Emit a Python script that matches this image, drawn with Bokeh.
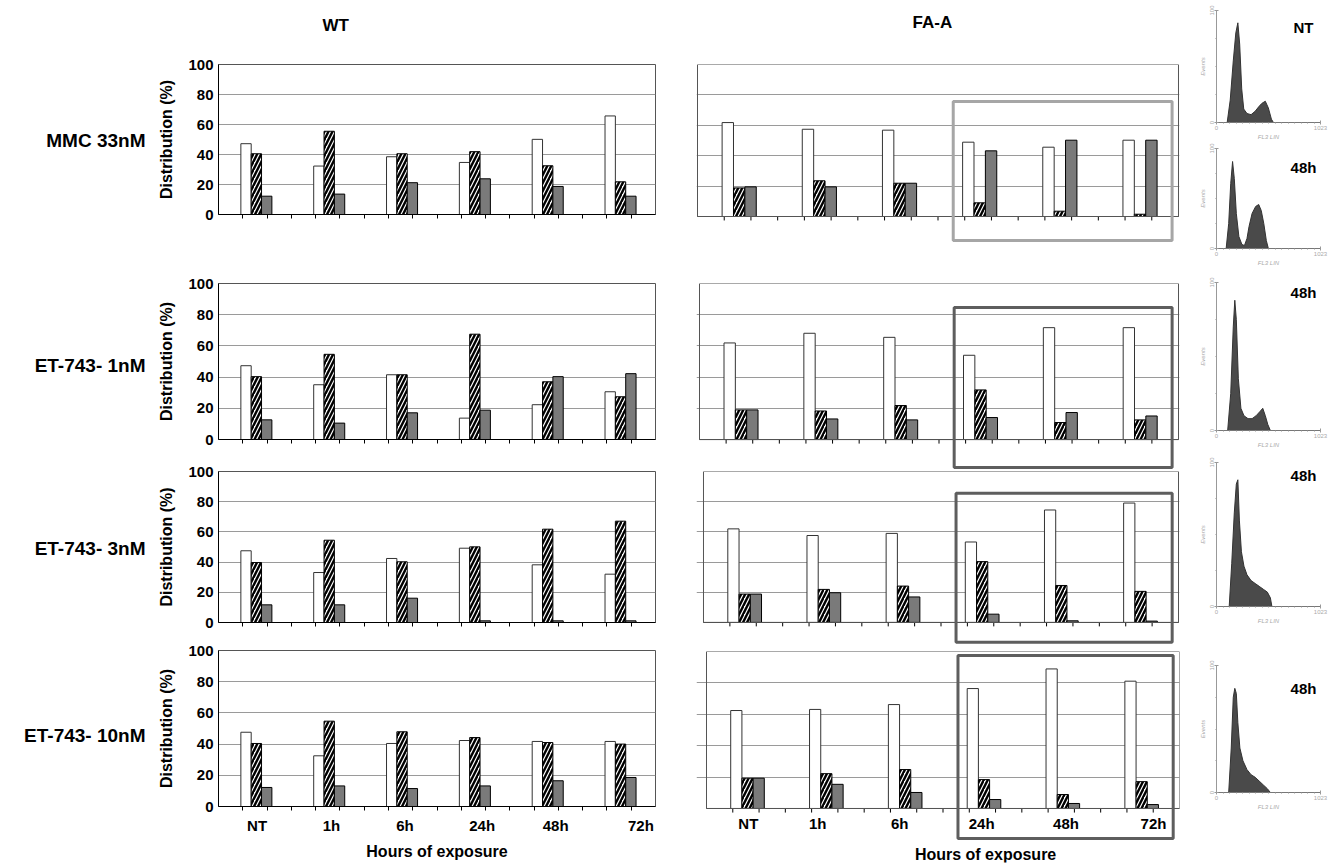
from bokeh.plotting import figure
from bokeh.models import Range1d, FixedTicker, BoxAnnotation
from bokeh.core.properties import value
from bokeh.layouts import row, column
from bokeh.embed import file_html
from bokeh.resources import INLINE

FONT = "Liberation Sans"

times = ["NT", "1h", "6h", "24h", "48h", "72h"]
row_names = ["MMC 33nM", "ET-743- 1nM", "ET-743- 3nM", "ET-743- 10nM"]

# WT (white = G1, hatched = S, grey = G2/M), percentages
wt_mmc_g1 = [47.2, 32.3, 38.5, 34.7, 50.1, 65.7]
wt_mmc_s = [40.5, 55.5, 40.5, 41.9, 32.5, 21.8]
wt_mmc_g2 = [12.2, 13.6, 21.2, 23.8, 18.7, 12.2]
wt_et1_g1 = [47.3, 35.1, 41.5, 13.7, 22.3, 30.6]
wt_et1_s = [40.3, 54.6, 41.5, 67.5, 37.0, 27.4]
wt_et1_g2 = [12.6, 10.5, 17.1, 18.8, 40.3, 42.2]
wt_et3_g1 = [47.5, 33.1, 42.4, 49.2, 38.2, 32.0]
wt_et3_s = [39.7, 54.5, 40.2, 50.1, 61.8, 67.1]
wt_et3_g2 = [11.7, 11.7, 16.1, 1.1, 1.1, 1.1]
wt_et10_g1 = [47.6, 32.5, 40.4, 42.3, 41.7, 41.7]
wt_et10_s = [40.4, 54.7, 47.9, 44.2, 41.0, 40.0]
wt_et10_g2 = [12.2, 13.2, 11.5, 13.2, 16.5, 18.6]

# FA-A
fa_mmc_g1 = [61.8, 57.4, 56.8, 48.9, 45.6, 50.2]
fa_mmc_s = [18.8, 23.5, 21.9, 9.0, 3.5, 1.5]
fa_mmc_g2 = [19.5, 19.5, 21.9, 43.2, 50.2, 50.2]
fa_et1_g1 = [61.9, 68.1, 65.5, 54.0, 71.7, 71.7]
fa_et1_s = [19.0, 18.3, 21.8, 31.8, 10.9, 12.6]
fa_et1_g2 = [19.0, 13.2, 12.6, 14.1, 17.3, 15.1]
fa_et3_g1 = [62.0, 57.6, 59.0, 53.3, 74.5, 79.1]
fa_et3_s = [18.8, 21.9, 24.1, 40.3, 24.5, 20.6]
fa_et3_g2 = [18.8, 19.7, 16.9, 5.5, 1.1, 0.9]
fa_et10_g1 = [62.4, 63.1, 66.2, 76.4, 88.9, 81.1]
fa_et10_s = [19.3, 22.2, 24.8, 18.4, 8.9, 17.1]
fa_et10_g2 = [19.3, 15.4, 10.2, 5.7, 3.2, 2.5]

# DNA content histograms (channel 0..1023, events as % of axis max)
h_nt_x = [0, 105, 135, 165, 190, 210, 228, 248, 268, 300, 340, 380, 415, 445, 480, 510, 540, 560, 1023]
h_nt_y = [0, 0, 20, 55, 80, 89, 70, 30, 12, 8, 7, 10, 14, 17, 19, 13, 3, 0, 0]
h_mmc_x = [0, 95, 120, 140, 158, 175, 195, 220, 250, 275, 300, 320, 350, 385, 415, 440, 465, 490, 510, 1023]
h_mmc_y = [0, 0, 25, 65, 87, 70, 35, 12, 4, 3, 10, 22, 35, 42, 44, 38, 25, 8, 0, 0]
h_et1_x = [0, 110, 140, 165, 180, 195, 215, 240, 270, 310, 350, 390, 430, 455, 480, 505, 530, 1023]
h_et1_y = [0, 0, 25, 70, 88, 75, 35, 15, 10, 8, 8, 10, 13, 15, 10, 4, 0, 0]
h_et3_x = [0, 125, 150, 175, 195, 210, 225, 245, 270, 300, 340, 380, 420, 460, 500, 530, 545, 1023]
h_et3_y = [0, 0, 30, 65, 85, 88, 60, 38, 28, 22, 18, 16, 14, 12, 10, 6, 0, 0]
h_et10_x = [0, 120, 145, 165, 180, 195, 210, 230, 260, 300, 340, 380, 420, 460, 500, 530, 1023]
h_et10_y = [0, 0, 35, 75, 82, 78, 55, 35, 25, 18, 14, 12, 9, 6, 3, 0, 0]
hist_labels = ["NT", "48h", "48h", "48h", "48h"]

wt_label_pos = [0.53, 1.55, 2.56, 3.62, 4.63, 5.8]
fa_label_pos = [0.53, 1.41, 2.45, 3.49, 4.56, 5.67]
row_label_y = [140, 365, 548, 735]   # vertical positions (px) of the row captions

BW = 0.142
MINOR = [k / 3 for k in range(1, 18)]


def add_bars(p, g1, s, g2):
    xc = [i + 0.52 for i in range(len(times))]
    p.vbar(x=[x - BW for x in xc], top=g1, width=BW, fill_color="white",
           line_color="#333333", line_width=1)
    p.vbar(x=xc, top=s, width=BW, fill_color="white", line_color="black", line_width=1,
           hatch_pattern="/", hatch_color="black", hatch_weight=2.4, hatch_scale=8)
    p.vbar(x=[x + BW for x in xc], top=g2, width=BW, fill_color="#7a7a7a",
           line_color="black", line_width=1)


def bold_text(p, xs, ys, texts, size, align="center"):
    p.text(x=xs, y=ys, text=texts, text_font=value(FONT), text_font_style="bold",
           text_font_size=size, text_align=align, text_baseline="middle", text_color="black")


def blank(width, height, xr, yr, bl=0, br=0):
    p = figure(width=width, height=height, x_range=xr, y_range=yr,
               output_backend="svg", toolbar_location=None,
               x_axis_location=None, y_axis_location=None,
               min_border_left=bl, min_border_right=br, min_border_top=0, min_border_bottom=0)
    p.grid.visible = False
    p.outline_line_color = None
    return p


WT_W, WT_BL, WT_BR = 530, 68, 25


def wt_panel(height, bt, bb, g1, s, g2, last=False):
    p = figure(width=WT_W, height=height, x_range=Range1d(0, 6), y_range=Range1d(0, 100),
               output_backend="svg", toolbar_location=None,
               min_border_left=WT_BL, min_border_right=WT_BR, min_border_top=bt, min_border_bottom=bb)
    p.outline_line_color = "#555555"
    p.xgrid.visible = False
    p.ygrid.ticker = FixedTicker(ticks=[20, 40, 60, 80])
    p.ygrid.grid_line_color = "#9a9a9a"
    add_bars(p, g1, s, g2)
    ya = p.yaxis[0]
    ya.ticker = FixedTicker(ticks=[0, 20, 40, 60, 80, 100])
    ya.major_tick_out = 0
    ya.major_tick_in = 0
    ya.minor_tick_out = 0
    ya.minor_tick_in = 0
    ya.major_label_text_font = FONT
    ya.major_label_text_font_style = "bold"
    ya.major_label_text_font_size = "15px"
    ya.major_label_text_color = "black"
    ya.major_label_standoff = 5
    ya.axis_line_color = "black"
    ya.axis_label = "Distribution (%)"
    ya.axis_label_text_font = FONT
    ya.axis_label_text_font_style = "bold"
    ya.axis_label_text_font_size = "16px"
    ya.axis_label_text_color = "black"
    ya.axis_label_standoff = 10
    xa = p.xaxis[0]
    if last:
        xa.ticker = FixedTicker(ticks=wt_label_pos, minor_ticks=MINOR)
        xa.major_label_overrides = {pos: t for pos, t in zip(wt_label_pos, times)}
        xa.major_label_text_font = FONT
        xa.major_label_text_font_style = "bold"
        xa.major_label_text_font_size = "15px"
        xa.major_label_text_color = "black"
        xa.major_label_standoff = 6
        xa.axis_label = "Hours of exposure"
        xa.axis_label_text_font = FONT
        xa.axis_label_text_font_style = "bold"
        xa.axis_label_text_font_size = "16px"
        xa.axis_label_text_color = "black"
        xa.axis_label_standoff = 6
    else:
        xa.ticker = FixedTicker(ticks=[], minor_ticks=MINOR)
    xa.major_tick_out = 0
    xa.major_tick_in = 0
    xa.minor_tick_out = 4
    xa.minor_tick_in = 0
    xa.minor_tick_line_color = "black"
    xa.axis_line_color = "black"
    return p


FA_W, FA_BL, FA_BR = 515, 16, 16


def fa_panel(height, bt, xr, ystart, g1, s, g2, box_top, box_bottom, box_color,
             last=False, tick_y=None, xlabel_y=None):
    p = figure(width=FA_W, height=height, x_range=Range1d(*xr), y_range=Range1d(ystart, 100),
               output_backend="svg", toolbar_location=None,
               x_axis_location=None, y_axis_location=None,
               min_border_left=FA_BL, min_border_right=FA_BR, min_border_top=bt, min_border_bottom=1)
    p.outline_line_color = None
    p.xgrid.visible = False
    p.ygrid.ticker = FixedTicker(ticks=[20, 40, 60, 80])
    p.ygrid.grid_line_color = "#9a9a9a"
    p.ygrid.bounds = (0, 6)
    # panel frame (0..6 x 0..100) and category axis at 0
    p.add_layout(BoxAnnotation(left=0, right=6, bottom=0, top=100, fill_color=None, fill_alpha=0,
                               line_color="#555555", line_alpha=1, line_width=1))
    add_bars(p, g1, s, g2)
    p.segment(x0=[0], y0=[0], x1=[6], y1=[0], line_color="black", line_width=1)
    p.segment(x0=MINOR, y0=[0] * len(MINOR), x1=MINOR, y1=[-2.6] * len(MINOR),
              line_color="black", line_width=1)
    p.add_layout(BoxAnnotation(left=3.19, right=5.92, top=box_top, bottom=box_bottom,
                               fill_color=None, fill_alpha=0, line_color=box_color,
                               line_alpha=1, line_width=3))
    if last:
        bold_text(p, fa_label_pos, [tick_y] * len(times), times, "15px")
        bold_text(p, [3.54], [xlabel_y], ["Hours of exposure"], "16px")
    return p


# row caption column
lab = blank(150, 863, Range1d(0, 150), Range1d(863, 0))
bold_text(lab, [145] * len(row_names), row_label_y, row_names, "19px", align="right")

# column headers
wt_head = blank(WT_W, 50, Range1d(0, 6), Range1d(50, 0), bl=WT_BL, br=WT_BR)
bold_text(wt_head, [1.61], [25], ["WT"], "17px")
fa_head = blank(FA_W, 50, Range1d(-0.0125, 6.0125), Range1d(50, 0), bl=FA_BL, br=FA_BR)
bold_text(fa_head, [2.93], [22], ["FA-A"], "17px")

wt1 = wt_panel(200, 14, 36, wt_mmc_g1, wt_mmc_s, wt_mmc_g2)
wt2 = wt_panel(208, 33, 19, wt_et1_g1, wt_et1_s, wt_et1_g2)
wt3 = wt_panel(182, 13, 18, wt_et3_g1, wt_et3_s, wt_et3_g2)
wt4 = wt_panel(223, 10, 57, wt_et10_g1, wt_et10_s, wt_et10_g2, last=True)

fa1 = fa_panel(200, 14, (-0.0125, 6.0125), -21.7, fa_mmc_g1, fa_mmc_s, fa_mmc_g2,
               75.7, -15.8, "#a6a6a6")
fa2 = fa_panel(220, 33, (-0.0376, 6.0125), -19.2, fa_et1_g1, fa_et1_s, fa_et1_g2,
               84.6, -17.9, "#5e5e5e")
fa3 = fa_panel(175, 1, (-0.0884, 6.0126), -14.6, fa_et3_g1, fa_et3_s, fa_et3_g2,
               85.6, -13.1, "#5e5e5e")
fa4 = fa_panel(218, 6, (-0.127, 6.0), -34.4, fa_et10_g1, fa_et10_s, fa_et10_g2,
               97.5, -19.1, "#5e5e5e", last=True, tick_y=-9.6, xlabel_y=-29.3)


def hist_panel(height, bt, bb, xs, ys, label, label_y):
    p = figure(width=133, height=height, x_range=Range1d(0, 1023), y_range=Range1d(0, 100),
               output_backend="svg", toolbar_location=None,
               min_border_left=21, min_border_right=8, min_border_top=bt, min_border_bottom=bb)
    p.outline_line_color = None
    p.grid.visible = False
    p.varea(x=xs, y1=[0] * len(xs), y2=ys, fill_color="#4a4a4a")
    p.line(x=xs, y=ys, line_color="#333333", line_width=1)
    xa = p.xaxis[0]
    xa.ticker = FixedTicker(ticks=[0, 1023], minor_ticks=list(range(0, 1024, 64)))
    xa.axis_line_color = "#777777"
    xa.major_tick_out = 2
    xa.minor_tick_out = 1
    xa.major_tick_line_color = "#999999"
    xa.minor_tick_line_color = "#999999"
    xa.major_label_text_font_size = "6px"
    xa.major_label_text_color = "#aaaaaa"
    xa.major_label_standoff = 1
    xa.axis_label = "FL3 LIN"
    xa.axis_label_text_font_size = "6px"
    xa.axis_label_text_color = "#aaaaaa"
    xa.axis_label_standoff = 1
    ya = p.yaxis[0]
    ya.ticker = FixedTicker(ticks=[0, 100], minor_ticks=[25, 50, 75])
    ya.axis_line_color = "#999999"
    ya.major_tick_out = 2
    ya.minor_tick_out = 1
    ya.major_tick_line_color = "#999999"
    ya.minor_tick_line_color = "#999999"
    ya.major_label_text_font_size = "6px"
    ya.major_label_text_color = "#aaaaaa"
    ya.major_label_standoff = 1
    ya.major_label_orientation = "vertical"
    ya.axis_label = "Events"
    ya.axis_label_text_font_size = "6px"
    ya.axis_label_text_color = "#aaaaaa"
    ya.axis_label_standoff = 1
    bold_text(p, [856], [label_y], [label], "15px")
    return p


h1 = hist_panel(142, 10, 9, h_nt_x, h_nt_y, hist_labels[0], 85)
h2 = hist_panel(126, 6, 6, h_mmc_x, h_mmc_y, hist_labels[1], 81)
h3 = hist_panel(182, 14, 13, h_et1_x, h_et1_y, hist_labels[2], 93)
h4 = hist_panel(190, 12, 34, h_et3_x, h_et3_y, hist_labels[3], 91)
h5 = hist_panel(223, 25, 71, h_et10_x, h_et10_y, hist_labels[4], 82)

layout = row(lab, column(wt_head, wt1, wt2, wt3, wt4), column(fa_head, fa1, fa2, fa3, fa4),
             column(h1, h2, h3, h4, h5))

open("out.html", "w").write(file_html(layout, INLINE))
